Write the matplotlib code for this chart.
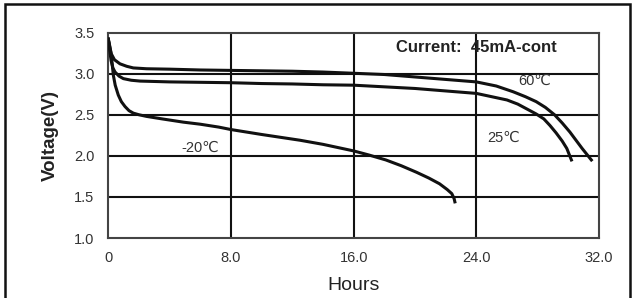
import matplotlib.pyplot as plt
from matplotlib.patches import Rectangle

plt.rcParams['font.family'] = ['Liberation Sans', 'DejaVu Sans']

# Dados (horas, volts)
hours_60 = [0.0, 0.08, 0.2, 0.4, 0.76, 1.2, 1.63, 2.5, 4.0, 6.0, 8.0, 10.0, 12.0,
            14.0, 16.0, 18.0, 20.0, 22.0, 24.0, 25.3, 26.4, 27.2, 27.9, 28.5,
            29.1, 29.6, 30.1, 30.5, 30.9, 31.2, 31.5]
volts_60 = [3.42, 3.34, 3.24, 3.17, 3.12, 3.09, 3.07, 3.06, 3.055, 3.045, 3.04,
            3.035, 3.03, 3.02, 3.005, 2.99, 2.96, 2.93, 2.90, 2.85, 2.78, 2.72,
            2.66, 2.59, 2.50, 2.40, 2.29, 2.19, 2.09, 2.02, 1.95]

hours_25 = [0.0, 0.08, 0.18, 0.3, 0.44, 0.7, 0.98, 1.5, 2.07, 4.0, 6.0, 8.0, 10.0,
            12.0, 14.0, 16.0, 18.0, 20.0, 22.0, 24.0, 25.0, 26.0, 26.7, 27.3,
            27.9, 28.4, 28.8, 29.2, 29.6, 29.9, 30.05, 30.2]
volts_25 = [3.42, 3.30, 3.16, 3.07, 3.02, 2.97, 2.94, 2.92, 2.91, 2.90, 2.895,
            2.89, 2.88, 2.875, 2.865, 2.86, 2.84, 2.82, 2.79, 2.76, 2.72, 2.68,
            2.63, 2.57, 2.51, 2.45, 2.37, 2.28, 2.18, 2.09, 2.02, 1.95]

hours_m20 = [0.0, 0.08, 0.15, 0.22, 0.28, 0.33, 0.45, 0.65, 0.85, 1.09, 1.35, 1.63,
             2.0, 2.5, 3.5, 4.9, 6.0, 7.2, 8.0, 10.0, 12.5, 14.0, 16.0, 17.0,
             18.1, 19.1, 20.1, 20.9, 21.6, 22.1, 22.4, 22.55, 22.6]
volts_m20 = [3.42, 3.35, 3.27, 3.18, 3.07, 2.98, 2.86, 2.74, 2.66, 2.60, 2.55,
             2.52, 2.50, 2.48, 2.45, 2.41, 2.385, 2.35, 2.32, 2.26, 2.19, 2.14,
             2.06, 2.01, 1.95, 1.88, 1.80, 1.73, 1.66, 1.59, 1.54, 1.48, 1.44]

x_ticks = [0, 8, 16, 24, 32]
x_tick_labels = ["0", "8.0", "16.0", "24.0", "32.0"]
y_ticks = [1.0, 1.5, 2.0, 2.5, 3.0, 3.5]
y_tick_labels = ["1.0", "1.5", "2.0", "2.5", "3.0", "3.5"]


def main():
    fig = plt.figure(figsize=(6.33, 2.98), dpi=100)
    ax = fig.add_axes([0.1711, 0.2013, 0.7752, 0.6893])

    # Grade
    for x in x_ticks[1:-1]:
        ax.axvline(x, color='#111111', lw=1.5, zorder=1)
    for y in y_ticks[1:-1]:
        ax.axhline(y, color='#111111', lw=1.5, zorder=1)

    # Curvas de descarga
    for h, v in [(hours_60, volts_60), (hours_25, volts_25), (hours_m20, volts_m20)]:
        ax.plot(h, v, color='#111111', lw=2.2, solid_joinstyle='round', zorder=3)

    ax.set_xlim(0, 32)
    ax.set_ylim(1.0, 3.5)
    ax.set_xticks(x_ticks)
    ax.set_xticklabels(x_tick_labels)
    ax.set_yticks(y_ticks)
    ax.set_yticklabels(y_tick_labels)
    ax.tick_params(axis='both', length=0, labelsize=10.5, colors='#333333')
    ax.tick_params(axis='x', pad=9)
    ax.tick_params(axis='y', pad=10)

    for spine in ax.spines.values():
        spine.set_color('#444444')
        spine.set_linewidth(1.5)

    ax.set_xlabel("Hours", fontsize=14, color='#222222', labelpad=9)
    ax.set_ylabel("Voltage(V)", fontsize=13.5, fontweight='bold', color='#222222', labelpad=11)

    # Rotulos das curvas
    ax.text(27.8, 2.91, "60℃", fontsize=10.5, color='#333333', ha='center', va='center')
    ax.text(25.75, 2.22, "25℃", fontsize=10.5, color='#333333', ha='center', va='center')
    ax.text(5.96, 2.10, "-20℃", fontsize=10.5, color='#333333', ha='center', va='center')
    ax.text(24.0, 3.32, "Current:  45mA-cont", fontsize=12, fontweight='bold',
            color='#222222', ha='center', va='center')

    # Moldura externa
    fig.patches.append(Rectangle((5 / 633, -0.02), 625 / 633, 1 - 4 / 298 + 0.02,
                                 transform=fig.transFigure, fill=False,
                                 edgecolor='#111111', lw=1.8))

    fig.savefig("out.png", dpi=100)


if __name__ == "__main__":
    main()
